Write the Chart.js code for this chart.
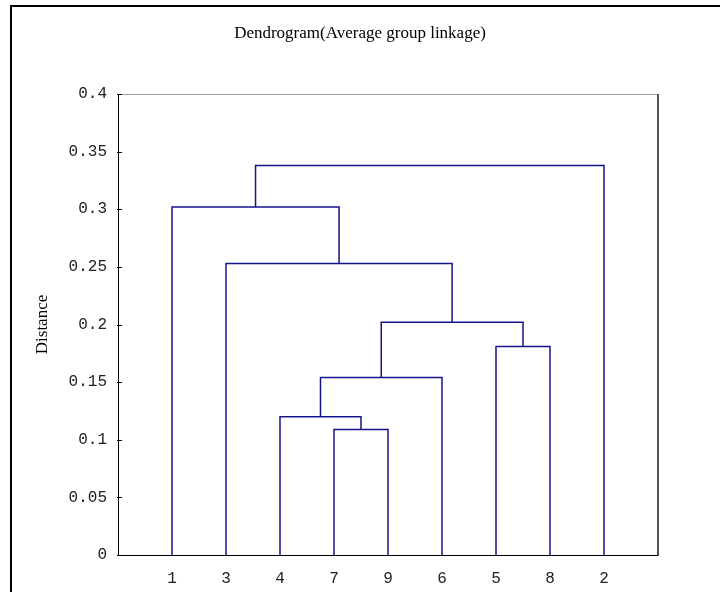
<!DOCTYPE html>
<html>
<head>
<meta charset="utf-8">
<script src="https://cdn.jsdelivr.net/npm/chart.js@4/dist/chart.umd.min.js"></script>
<style>
  html, body { margin: 0; padding: 0; background: #fff; overflow: hidden; }
  #wrap { position: relative; width: 720px; height: 592px; }
  #frame { position: absolute; left: 10px; top: 5px; width: 720px; height: 600px; border: 2px solid #000; box-sizing: border-box; }
  canvas { position: absolute; left: 0; top: 0; }
</style>
</head>
<body>
<div id="wrap">
  <div id="frame"></div>
  <canvas id="c" width="720" height="592"></canvas>
</div>
<script>
// Leaves in display order (x positions 1..9)
const leafLabels = ['1', '3', '4', '7', '9', '6', '5', '8', '2'];
// Linkage: nodes 0..8 are leaves, node 9+i is the cluster made by merge i
const mergeLeft = [3, 2, 10, 6, 11, 1, 0, 15];
const mergeRight = [4, 9, 5, 7, 12, 13, 14, 8];
const mergeHeights = [0.109, 0.120, 0.154, 0.181, 0.202, 0.253, 0.302, 0.338];
const yTickValues = [0, 0.05, 0.1, 0.15, 0.2, 0.25, 0.3, 0.35, 0.4];

const lineColor = '#14148c';

// node positions / heights
const nodeX = leafLabels.map((_, i) => i + 1);
const nodeY = leafLabels.map(() => 0);
const datasets = [];
for (let i = 0; i < mergeHeights.length; i++) {
  const a = mergeLeft[i], b = mergeRight[i], h = mergeHeights[i];
  datasets.push({
    data: [
      {x: nodeX[a], y: nodeY[a]},
      {x: nodeX[a], y: h},
      {x: nodeX[b], y: h},
      {x: nodeX[b], y: nodeY[b]}
    ],
    showLine: true,
    borderColor: lineColor,
    borderWidth: 1.5,
    pointRadius: 0,
    tension: 0,
    fill: false
  });
  nodeX.push((nodeX[a] + nodeX[b]) / 2);
  nodeY.push(h);
}

const framePlugin = {
  id: 'frame',
  afterDraw(chart) {
    const {ctx, chartArea: ca, scales} = chart;
    ctx.save();
    // top border
    ctx.strokeStyle = '#9a9a9a';
    ctx.lineWidth = 1;
    ctx.beginPath(); ctx.moveTo(ca.left, ca.top + 0.5); ctx.lineTo(ca.right, ca.top + 0.5); ctx.stroke();
    // right border
    ctx.strokeStyle = '#555';
    ctx.lineWidth = 2;
    ctx.beginPath(); ctx.moveTo(ca.right, ca.top); ctx.lineTo(ca.right, ca.bottom + 1); ctx.stroke();
    // left / bottom axes
    ctx.strokeStyle = '#000';
    ctx.lineWidth = 1;
    ctx.beginPath();
    ctx.moveTo(ca.left + 0.5, ca.top);
    ctx.lineTo(ca.left + 0.5, ca.bottom + 0.5);
    ctx.lineTo(ca.right, ca.bottom + 0.5);
    ctx.stroke();
    // inward y ticks
    const ys = scales.y;
    ctx.beginPath();
    yTickValues.forEach(v => {
      const py = Math.round(ys.getPixelForValue(v)) + 0.5;
      ctx.moveTo(ca.left - 1, py);
      ctx.lineTo(ca.left + 4, py);
    });
    ctx.stroke();
    ctx.restore();
  }
};

new Chart(document.getElementById('c'), {
  type: 'scatter',
  data: { datasets },
  options: {
    responsive: false,
    animation: false,
    layout: { padding: { left: 0, right: 0, top: 0, bottom: 0 } },
    plugins: {
      legend: { display: false },
      tooltip: { enabled: false },
      title: {
        display: true,
        text: 'Dendrogram(Average group linkage)',
        color: '#000',
        font: { family: 'Liberation Serif', size: 17, weight: 'normal' },
        padding: { top: 23, bottom: 50.6 }
      }
    },
    scales: {
      x: {
        type: 'linear',
        min: 0, max: 10,
        grid: { display: false, drawTicks: false },
        border: { display: false },
        afterFit(s) { s.height = 37; },
        afterBuildTicks(s) { s.ticks = leafLabels.map((_, i) => ({value: i + 1})); },
        ticks: {
          autoSkip: false,
          maxRotation: 0,
          padding: 14,
          color: '#222',
          font: { family: 'Liberation Mono', size: 16 },
          callback: (v) => leafLabels[v - 1] ?? ''
        }
      },
      y: {
        type: 'linear',
        min: 0, max: 0.4,
        grid: { display: false, drawTicks: false },
        border: { display: false },
        afterFit(s) { s.width = 118; },
        afterBuildTicks(s) { s.ticks = yTickValues.map(v => ({value: v})); },
        title: {
          display: true,
          text: 'Distance',
          color: '#000',
          font: { family: 'Liberation Serif', size: 17, weight: 'normal' },
          padding: { top: 32, bottom: 0 }
        },
        ticks: {
          padding: 11,
          color: '#222',
          font: { family: 'Liberation Mono', size: 16 },
          callback: (v) => String(Math.round(v * 100) / 100)
        }
      },
      yRight: {
        type: 'linear',
        position: 'right',
        min: 0, max: 0.4,
        grid: { display: false, drawTicks: false },
        border: { display: false },
        ticks: { display: false },
        afterFit(s) { s.width = 62; }
      }
    }
  },
  plugins: [framePlugin]
});
</script>
</body>
</html>
